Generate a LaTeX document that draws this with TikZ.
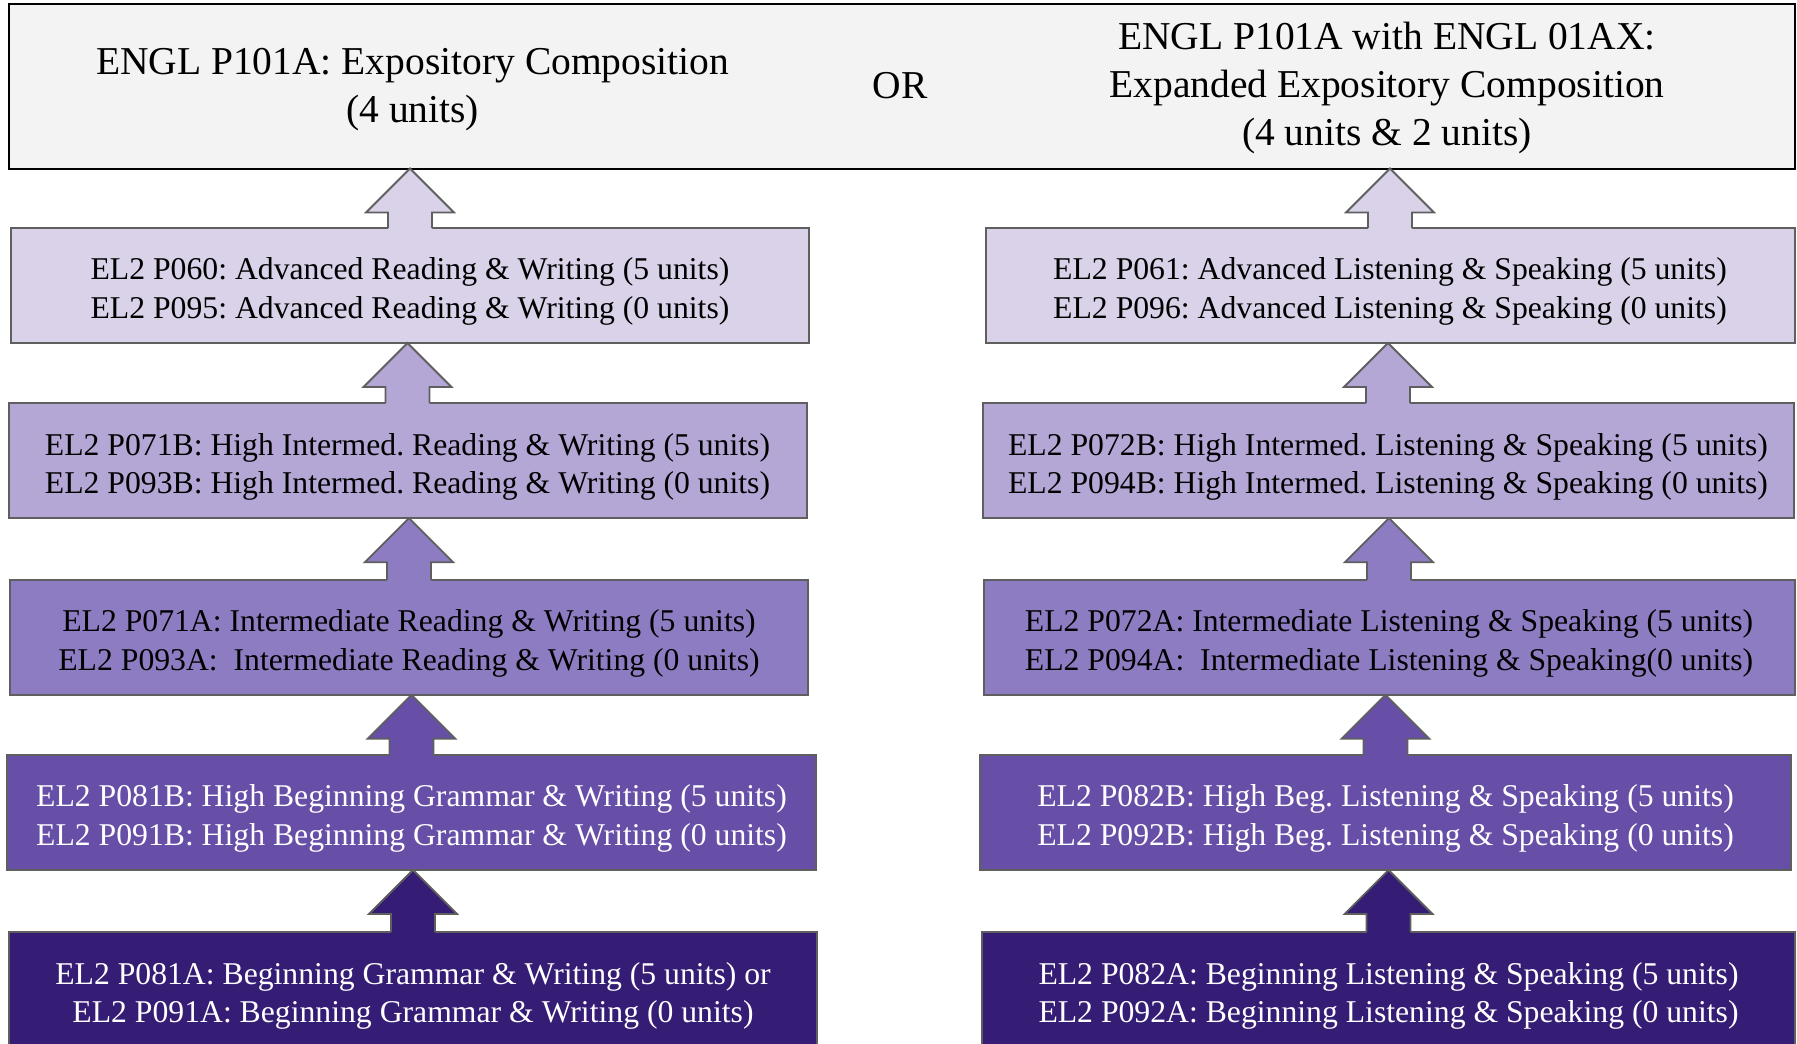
\documentclass[tikz,border=0pt]{standalone}
\usepackage{fontspec}
\setmainfont{Liberation Serif}
\usetikzlibrary{calc}
\frenchspacing
\definecolor{topfill}{HTML}{F3F3F3}
\definecolor{cA}{HTML}{D9D2E9}
\definecolor{cB}{HTML}{B4A7D6}
\definecolor{cC}{HTML}{8E7CC3}
\definecolor{cD}{HTML}{674EA7}
\definecolor{cE}{HTML}{351C75}
\definecolor{edgegray}{HTML}{5F5F5F}
\tikzset{
  box/.style={draw=edgegray, line width=2pt, outer sep=0pt, inner sep=0pt},
  btext/.style={align=center, inner sep=0pt, font=\fontsize{31.7}{38.5}\selectfont},
  toptext/.style={align=center, font=\fontsize{39.5}{48}\selectfont, inner sep=0pt},
  arrline/.style={draw=edgegray, line width=1.8pt, line join=miter},
}
\newcommand\uparr[3]{%
  \fill[#3] let \p1=(#1.north), \p2=(#2.south) in
    (\x1,\y2) -- (\x1+44pt,\y2-44pt) -- (\x1+22pt,\y2-44pt) -- (\x1+22pt,\y1-1.5pt)
      -- (\x1-22pt,\y1-1.5pt) -- (\x1-22pt,\y2-44pt) -- (\x1-44pt,\y2-44pt) -- cycle;
  \draw[arrline] let \p1=(#1.north), \p2=(#2.south) in
    (\x1+22pt,\y1) -- (\x1+22pt,\y2-44pt) -- (\x1+44pt,\y2-44pt) -- (\x1,\y2)
      -- (\x1-44pt,\y2-44pt) -- (\x1-22pt,\y2-44pt) -- (\x1-22pt,\y1);
}
\begin{document}
\begin{tikzpicture}[x=1pt,y=-1pt]
\useasboundingbox (0,0) rectangle (1797,1044);
\fill[white] (0,0) rectangle (1797,1044);

% top box
\node[draw=black, line width=2pt, fill=topfill, minimum width=1786pt, minimum height=165pt, outer sep=0pt, inner sep=0pt] (top) at (902,86) {};
\node[toptext] (tl) at (412.6,89.4) {ENGL P101A: Expository Composition\\(4 units)};
\node[toptext] (or) at (900,86) {OR};
\node[toptext] (tr) at (1387,88.4) {ENGL P101A with ENGL 01AX:\\Expanded Expository Composition\\(4 units \& 2 units)};

% left column
\node[box, fill=cA, minimum width=798pt, minimum height=115pt] (l1) at (410,285.5) {};
\node[btext] (l1t) at (410,291.5) {EL2 P060: Advanced Reading \& Writing (5 units)\\EL2 P095: Advanced Reading \& Writing (0 units)};
\node[box, fill=cB, minimum width=798pt, minimum height=115pt] (l2) at (407.5,460.7) {};
\node[btext] (l2t) at (407.5,466.7) {EL2 P071B: High Intermed. Reading \& Writing (5 units)\\EL2 P093B: High Intermed. Reading \& Writing (0 units)};
\node[box, fill=cC, minimum width=798pt, minimum height=115pt] (l3) at (409,637.3) {};
\node[btext] (l3t) at (409,643.3) {EL2 P071A: Intermediate Reading \& Writing (5 units)\\EL2 P093A:\ \ Intermediate Reading \& Writing (0 units)};
\node[box, fill=cD, minimum width=809pt, minimum height=115pt] (l4) at (411.5,812.5) {};
\node[btext, text=white] (l4t) at (411.5,818.5) {EL2 P081B: High Beginning Grammar \& Writing (5 units)\\EL2 P091B: High Beginning Grammar \& Writing (0 units)};
\node[box, fill=cE, minimum width=808pt, minimum height=130pt] (l5) at (413,997) {};
\node[btext, text=white] (l5t) at (413,996) {EL2 P081A: Beginning Grammar \& Writing (5 units) or\\EL2 P091A: Beginning Grammar \& Writing (0 units)};

% right column
\node[box, fill=cA, minimum width=809pt, minimum height=115pt] (r1) at (1390,285.5) {};
\node[btext] (r1t) at (1390,291.5) {EL2 P061: Advanced Listening \& Speaking (5 units)\\EL2 P096: Advanced Listening \& Speaking (0 units)};
\node[box, fill=cB, minimum width=811pt, minimum height=115pt] (r2) at (1388,460.7) {};
\node[btext] (r2t) at (1388,466.7) {EL2 P072B: High Intermed. Listening \& Speaking (5 units)\\EL2 P094B: High Intermed. Listening \& Speaking (0 units)};
\node[box, fill=cC, minimum width=811pt, minimum height=115pt] (r3) at (1389,637.3) {};
\node[btext] (r3t) at (1389,643.3) {EL2 P072A: Intermediate Listening \& Speaking (5 units)\\EL2 P094A:\ \ Intermediate Listening \& Speaking(0 units)};
\node[box, fill=cD, minimum width=811pt, minimum height=115pt] (r4) at (1385.5,812.5) {};
\node[btext, text=white] (r4t) at (1385.5,818.5) {EL2 P082B: High Beg. Listening \& Speaking (5 units)\\EL2 P092B: High Beg. Listening \& Speaking (0 units)};
\node[box, fill=cE, minimum width=813pt, minimum height=130pt] (r5) at (1388.5,997) {};
\node[btext, text=white] (r5t) at (1388.5,996) {EL2 P082A: Beginning Listening \& Speaking (5 units)\\EL2 P092A: Beginning Listening \& Speaking (0 units)};

% arrows
\uparr{l1}{top}{cA}
\uparr{l2}{l1}{cB}
\uparr{l3}{l2}{cC}
\uparr{l4}{l3}{cD}
\uparr{l5}{l4}{cE}
\uparr{r1}{top}{cA}
\uparr{r2}{r1}{cB}
\uparr{r3}{r2}{cC}
\uparr{r4}{r3}{cD}
\uparr{r5}{r4}{cE}
\end{tikzpicture}
\end{document}
